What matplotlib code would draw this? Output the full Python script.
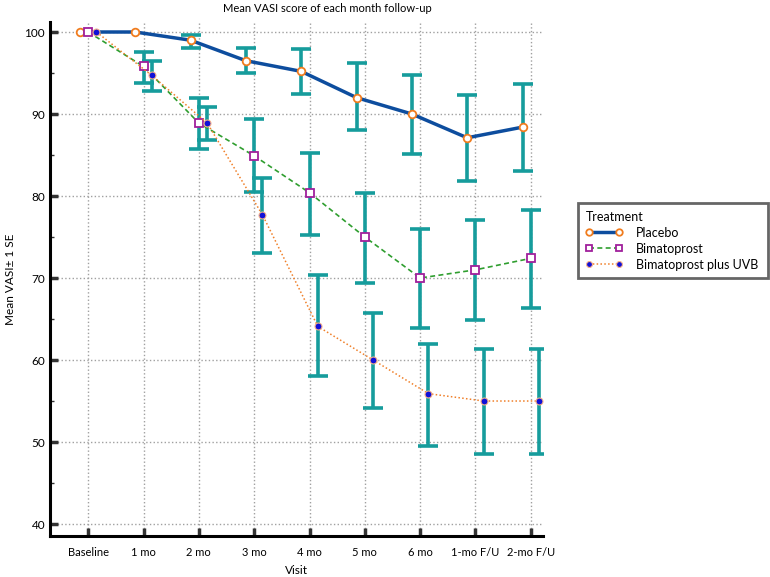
import numpy as np
import matplotlib.pyplot as plt
from matplotlib.ticker import MultipleLocator

plt.rcParams['font.family'] = ['Lato', 'DejaVu Sans']

# visits on the x axis
visits = ['Baseline', '1 mo', '2 mo', '3 mo', '4 mo', '5 mo', '6 mo', '1-mo F/U', '2-mo F/U']

# mean VASI and the +/- 1 SE ends
placebo = [100, 100, 99.0, 96.5, 95.2, 92.0, 90.0, 87.1, 88.4]
placebo_hi = [np.nan, np.nan, 99.6, 98.1, 97.9, 96.2, 94.8, 92.3, 93.6]
placebo_lo = [np.nan, np.nan, 98.0, 95.0, 92.5, 88.0, 85.1, 81.8, 83.1]

bima = [100, 95.8, 88.9, 84.9, 80.4, 75.0, 70.0, 71.0, 72.4]
bima_hi = [np.nan, 97.6, 91.9, 89.4, 85.2, 80.4, 76.0, 77.1, 78.3]
bima_lo = [np.nan, 93.8, 85.7, 80.5, 75.2, 69.4, 63.9, 64.9, 66.4]

uvb = [100, 94.7, 88.9, 77.7, 64.1, 60.0, 55.9, 55.0, 55.0]
uvb_hi = [np.nan, 96.5, 90.8, 82.2, 70.4, 65.7, 61.9, 61.4, 61.4]
uvb_lo = [np.nan, 92.8, 86.8, 73.0, 58.0, 54.2, 49.5, 48.5, 48.5]

x = np.arange(len(visits))
err_col = '#169c9c'
W, H = 770, 577

fig = plt.figure(figsize=(7.7, 5.77), dpi=100)
ax = fig.add_axes([50 / W, 1 - 536 / H, 493 / W, 514 / H])

series = [
    ('Placebo', placebo, placebo_lo, placebo_hi, -0.15,
     dict(color='#0d4d9e', lw=2.5, ls='-', marker='o', ms=5.5, mfc='white', mec='#f07c1e', mew=1.3)),
    ('Bimatoprost', bima, bima_lo, bima_hi, 0.0,
     dict(color='#2f9e2f', lw=1.2, ls=(0, (3, 2)), marker='s', ms=5.5, mfc='white', mec='#a0209c', mew=1.3)),
    ('Bimatoprost plus UVB', uvb, uvb_lo, uvb_hi, 0.15,
     dict(color='#f0802a', lw=1.1, ls=(0, (1, 1.5)), marker='o', ms=5, mfc='#1010d8', mec='#f5b08a', mew=0.8)),
]

handles = []
for name, y, lo, hi, off, style in series:
    y = np.array(y, float)
    lo = np.array(lo, float)
    hi = np.array(hi, float)
    xs = x + off
    ok = ~np.isnan(lo)
    ax.errorbar(xs[ok], y[ok], yerr=[y[ok] - lo[ok], hi[ok] - y[ok]], fmt='none',
                ecolor=err_col, elinewidth=2.6, capsize=7, capthick=2.6, zorder=2)
    h, = ax.plot(xs, y, label=name, zorder=3, **style)
    handles.append(h)

ax.set_xlim(-0.69, 8.22)
ax.set_ylim(38.54, 101.22)
ax.set_xticks(x)
ax.set_xticklabels(visits, fontsize=8)
ax.yaxis.set_major_locator(MultipleLocator(10))
ax.yaxis.set_minor_locator(MultipleLocator(5))
ax.tick_params(axis='y', labelsize=8.5)
ax.tick_params(which='major', direction='in', length=6, width=2.5, color='#333333')
ax.tick_params(which='minor', direction='in', length=3, width=1, color='#333333')
ax.tick_params(axis='x', pad=8)
ax.grid(True, which='major', ls=':', color='#a0a0a0', lw=1)
for s in ['top', 'right']:
    ax.spines[s].set_visible(False)
for s in ['left', 'bottom']:
    ax.spines[s].set_linewidth(2.2)

fig.text(327 / W, 1 - 9 / H, 'Mean VASI score of each month follow-up',
         fontsize=8, ha='center', va='center')
ax.set_xlabel('Visit', fontsize=8.5, labelpad=5)
ax.set_ylabel('Mean VASI\u00b1 1 SE', fontsize=8.5, labelpad=6)

leg = fig.legend(handles=handles, title='Treatment', loc='upper left',
                 bbox_to_anchor=(578 / W, 1 - 283 / H, 190 / W, 80 / H), mode='expand',
                 fontsize=9, title_fontsize=9, alignment='left', frameon=True,
                 fancybox=False, numpoints=2, handlelength=3.0, handletextpad=1.0,
                 borderaxespad=0, borderpad=0.6, labelspacing=0.32, markerscale=0.85)
leg.get_frame().set_edgecolor('#404040')
leg.get_frame().set_linewidth(2)

fig.savefig('out.png', dpi=100)
